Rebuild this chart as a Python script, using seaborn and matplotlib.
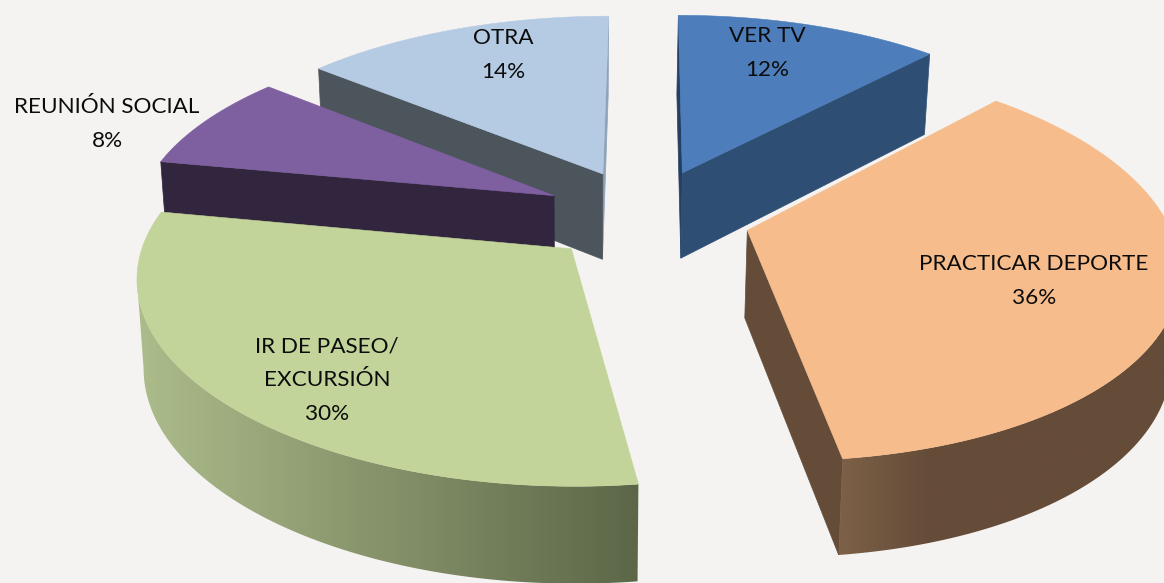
import numpy as np
import matplotlib
matplotlib.use('AGG')
import matplotlib.pyplot as plt
import seaborn as sns
from matplotlib.patches import Polygon

# clockwise from 12 o'clock
labels = ['VER TV', 'PRACTICAR DEPORTE', 'IR DE PASEO/\nEXCURSIÓN', 'REUNIÓN SOCIAL', 'OTRA']
values = [12, 36, 30, 8, 14]

top_colors = ['#4d7ebb', '#f6bc8c', '#c2d499', '#7e60a0', '#b5cbe3']
cut_start_colors = ['#243f61', '#654c39', '#5c6748', '#32263f', '#4c545c']
cut_end_colors = ['#2f4e74', '#654c39', '#5c6748', '#32263f', '#8fa3b8']
side_light = ['#3d6597', '#7d6147', '#adbc8b', '#5d4778', '#8fa3b8']
side_dark = ['#2f4e74', '#654c39', '#5c6748', '#32263f', '#4c545c']
side_fade_px = [100, 90, 500, 100, 100]
# which cut faces show: 0 = start edge, -1 = end edge
visible_cuts = [[0, -1], [-1], [], [0], [-1, 0]]

# label centres (px) for each slice
label_xy = [(767, 53), (1034, 281), (327, 380), (107, 124), (503, 55)]

# camera / layout, fitted on the picture
HORIZON = -1100
Y0 = 241
VX = 580
SCALE = 427
DIST = 6.72
EXPLODE = 0.247
CX, CY = 0.160, -0.13
DEPTH = 88
BOTTOM_SHRINK = 0.985


def project(x, y, bottom=False):
    g = DIST / (DIST - y)
    sx = VX + (x * SCALE) * g + 5 * y ** 2
    sy = HORIZON + (Y0 - HORIZON) * g
    if bottom:
        sx = VX + (sx - VX) * BOTTOM_SHRINK
        sy = sy + DEPTH * g ** 0.6
    return sx, sy


sns.set_theme(style='white')
plt.rcParams['font.family'] = ['Lato', 'DejaVu Sans']
bg = '#f4f3f1'
fig, ax = plt.subplots(figsize=(11.64, 5.83), dpi=100, facecolor=bg)
ax.set_position([0, 0, 1, 1])
ax.axis('off')

tops = sns.color_palette(top_colors)
total = sum(values)
edges = np.cumsum([0] + values) / total * 2 * np.pi

# slices painted back to front
for z, i in enumerate([0, 4, 3, 2, 1]):
    t0, t1 = edges[i], edges[i + 1]
    mid = (t0 + t1) / 2
    ox = CX + EXPLODE * np.sin(mid)
    oy = CY - EXPLODE * np.cos(mid)
    t = np.linspace(t0, t1, 400)
    px = ox + np.sin(t)
    py = oy - np.cos(t)

    tx, ty = project(px, py)
    bx, by = project(px, py, bottom=True)
    atx, aty = project(ox, oy)
    abx, aby = project(ox, oy, bottom=True)

    for k in visible_cuts[i]:
        col = cut_end_colors[i] if k == -1 else cut_start_colors[i]
        ax.fill([atx, tx[k], bx[k], abx], [aty, ty[k], by[k], aby],
                color=col, lw=0.5, zorder=z + 1)

    # outer wall, only the part facing us, as a clipped gradient
    front = np.where(np.diff(tx) < 0)[0]
    if len(front) > 0:
        a, b = front[0], front[-1] + 2
        wall = np.c_[np.r_[tx[a:b], bx[a:b][::-1]], np.r_[ty[a:b], by[a:b][::-1]]]
        left = wall[:, 0].min()
        right = wall[:, 0].max()
        cols = np.linspace(left, right, 512)
        frac = np.clip((cols - left) / side_fade_px[i], 0, 1)[None, :, None]
        light = np.array(matplotlib.colors.to_rgb(side_light[i]))
        dark = np.array(matplotlib.colors.to_rgb(side_dark[i]))
        img = light + (dark - light) * frac
        patch = Polygon(wall, closed=True, transform=ax.transData, fc='none', ec='none')
        ax.add_patch(patch)
        im = ax.imshow(img, extent=(left, right, wall[:, 1].max(), wall[:, 1].min()),
                       aspect='auto', zorder=z + 1, interpolation='bilinear')
        im.set_clip_path(patch)

    ax.fill(np.r_[atx, tx], np.r_[aty, ty], color=tops[i], lw=0.4, zorder=z + 1)

ax.set_xlim(0, 1164)
ax.set_ylim(583, 0)

for lab, val, (x, y) in zip(labels, values, label_xy):
    ax.text(x, y, f'{lab}\n{val}%', ha='center', va='center', fontsize=16.2,
            color='#0c0c0c', linespacing=1.85, zorder=20)

fig.savefig('out.png', dpi=100, facecolor=bg)
